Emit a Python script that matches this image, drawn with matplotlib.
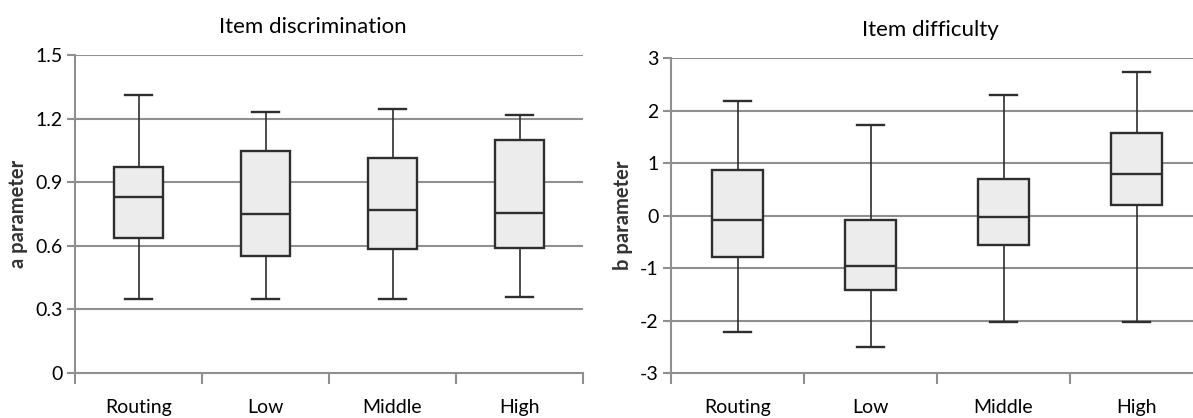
import matplotlib
matplotlib.use("Agg")
import matplotlib.pyplot as plt

plt.rcParams['font.family'] = ['Lato', 'DejaVu Sans']

groupes = ["Routing", "Low", "Middle", "High"]

# discrimination (a) : min, Q1, médiane, Q3, max
a_min = [0.35, 0.35, 0.35, 0.36]
a_q1 = [0.637, 0.554, 0.583, 0.589]
a_med = [0.832, 0.750, 0.770, 0.757]
a_q3 = [0.972, 1.048, 1.015, 1.099]
a_max = [1.309, 1.233, 1.246, 1.218]
a_ticks = [0, 0.3, 0.6, 0.9, 1.2, 1.5]

# difficulté (b)
b_min = [-2.22, -2.51, -2.02, -2.02]
b_q1 = [-0.79, -1.42, -0.57, 0.20]
b_med = [-0.09, -0.965, -0.03, 0.80]
b_q3 = [0.876, -0.09, 0.70, 1.575]
b_max = [2.19, 1.73, 2.30, 2.73]
b_ticks = [-3, -2, -1, 0, 1, 2, 3]

gris = "#8f8f8f"
trait = "#2e2e2e"


def stats(mins, q1s, meds, q3s, maxs):
    return [dict(whislo=lo, q1=q1, med=me, q3=q3, whishi=hi, label=g)
            for g, lo, q1, me, q3, hi in zip(groupes, mins, q1s, meds, q3s, maxs)]


def dessine(ax, st, ticks, titre, xtitre, ylabel):
    ax.bxp(st, positions=range(1, 5), widths=0.39, showfliers=False, patch_artist=True,
           boxprops=dict(facecolor="#ececec", edgecolor=trait, linewidth=1.7),
           medianprops=dict(color=trait, linewidth=1.7),
           whiskerprops=dict(color=trait, linewidth=1.2),
           capprops=dict(color=trait, linewidth=1.7), capwidths=0.21, zorder=3)
    ax.set_xlim(0.5, 4.5)
    ax.set_ylim(ticks[0], ticks[-1])
    ax.set_yticks(ticks)
    ax.set_yticklabels([f"{t:g}" for t in ticks], fontsize=14)
    for t in ticks[1:]:
        ax.axhline(t, color=gris, lw=1.5, zorder=1)
    ax.set_xticks([0.5, 1.5, 2.5, 3.5, 4.5])
    ax.set_xticklabels([])
    ax.set_xticks([1, 2, 3, 4], minor=True)
    ax.set_xticklabels(groupes, minor=True, fontsize=14)
    ax.tick_params(axis="x", which="major", direction="out", length=8, color=gris, width=1.5)
    ax.tick_params(axis="x", which="minor", length=0, pad=19)
    ax.tick_params(axis="y", direction="out", length=6, color=gris, width=1.5, pad=3)
    for s in ["top", "right"]:
        ax.spines[s].set_visible(False)
    for s in ["left", "bottom"]:
        ax.spines[s].set_color(gris)
        ax.spines[s].set_linewidth(1.5)
    ax.set_title(titre, fontsize=16, x=xtitre, pad=16)
    ax.set_ylabel(ylabel, fontsize=14.5, fontweight="bold", color="#333333", labelpad=5)


fig = plt.figure(figsize=(11.93, 4.18), dpi=100)
W, H = 1193, 418
ax1 = fig.add_axes([75 / W, 1 - 373 / H, (583 - 75) / W, (373 - 55) / H])
ax2 = fig.add_axes([671 / W, 1 - 373 / H, (1203 - 671) / W, (373 - 58) / H])

dessine(ax1, stats(a_min, a_q1, a_med, a_q3, a_max), a_ticks,
        "Item discrimination", 0.468, "a parameter")
dessine(ax2, stats(b_min, b_q1, b_med, b_q3, b_max), b_ticks,
        "Item difficulty", 0.487, "b parameter")

fig.savefig("out.png", dpi=100)
